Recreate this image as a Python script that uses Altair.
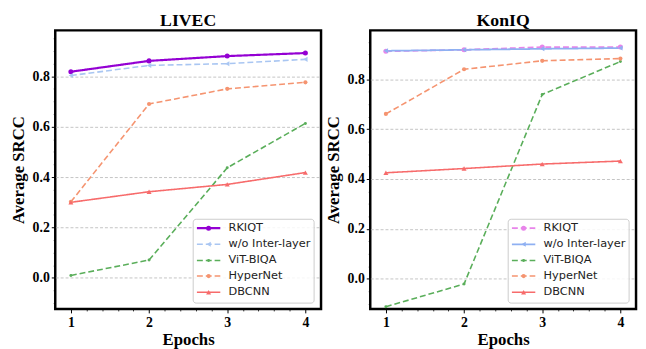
import altair as alt
import pandas as pd

# ---------------- data ----------------
epochs = [1, 2, 3, 4]
series = ["RKIQT", "w/o Inter-layer", "ViT-BIQA", "HyperNet", "DBCNN"]

livec_rkiqt = [0.818, 0.861, 0.880, 0.892]
livec_wo = [0.803, 0.843, 0.850, 0.867]
livec_vit = [0.010, 0.071, 0.437, 0.613]
livec_hyper = [0.302, 0.690, 0.750, 0.776]
livec_dbcnn = [0.300, 0.342, 0.371, 0.418]

koniq_rkiqt = [0.912, 0.918, 0.929, 0.929]
koniq_wo = [0.914, 0.918, 0.922, 0.925]
koniq_vit = [-0.112, -0.021, 0.739, 0.871]
koniq_hyper = [0.661, 0.840, 0.874, 0.883]
koniq_dbcnn = [0.425, 0.442, 0.460, 0.472]

x_ticks = [1, 2, 3, 4]
y_ticks = [0.0, 0.2, 0.4, 0.6, 0.8]
x_minor = [1.2, 1.4, 1.6, 1.8, 2.2, 2.4, 2.6, 2.8, 3.2, 3.4, 3.6, 3.8]
y_minor = [-0.1, -0.05, 0.05, 0.1, 0.15, 0.25, 0.3, 0.35, 0.45, 0.5, 0.55,
           0.65, 0.7, 0.75, 0.85, 0.9, 0.95]

# ---------------- styles ----------------
SERIF = "Liberation Serif"
SANS = "DejaVu Sans"
W, H = 270, 283
DASH = [6, 3]
SOLID = [1, 0]

livec_colors = ["#9400d3", "#a9c6f2", "#5aae5a", "#f59470", "#f76b6b"]
livec_dashes = [SOLID, DASH, DASH, DASH, SOLID]
livec_widths = [2.2, 1.6, 1.6, 1.6, 1.6]

koniq_colors = ["#e884ea", "#8fb0f2", "#5aae5a", "#f59470", "#f76b6b"]
koniq_dashes = [DASH, SOLID, DASH, DASH, SOLID]
koniq_widths = [1.8, 1.8, 1.6, 1.6, 1.6]

shapes = ["circle", "triangle-left", "circle", "circle", "triangle-up"]
sizes = [26, 26, 9, 18, 26]

# legend layout (fractions of the plot area)
leg_box = dict(x0=0.519, x1=0.974, y0=0.021, y1=0.322)
leg_rows = [0.290, 0.232, 0.174, 0.118, 0.060]
leg_line = (0.533, 0.621)
leg_text_x = 0.652


def panel(title, values, colors, dashes, widths, ydom):
    rows = []
    for s, vals in zip(series, values):
        for e, v in zip(epochs, vals):
            rows.append({"series": s, "epoch": e, "srcc": v})
    df = pd.DataFrame(rows)

    color = alt.Color("series:N", scale=alt.Scale(domain=series, range=colors), legend=None)
    dash = alt.StrokeDash("series:N", scale=alt.Scale(domain=series, range=dashes), legend=None)
    sw = alt.StrokeWidth("series:N", scale=alt.Scale(type="ordinal", domain=series, range=widths), legend=None)
    shape = alt.Shape("series:N", scale=alt.Scale(domain=series, range=shapes), legend=None)
    size = alt.Size("series:N", scale=alt.Scale(type="ordinal", domain=series, range=sizes), legend=None)

    xs = alt.Scale(domain=[0.8, 4.2], nice=False, zero=False)
    ys = alt.Scale(domain=ydom, nice=False, zero=False)

    lines = alt.Chart(df).mark_line().encode(
        x=alt.X("epoch:Q", scale=xs,
                axis=alt.Axis(values=x_ticks, format="d", title="Epochs", grid=False,
                              labelPadding=3, titlePadding=2, orient="bottom")),
        y=alt.Y("srcc:Q", scale=ys,
                axis=alt.Axis(values=y_ticks, format=".1f", title="Average SRCC", grid=True,
                              labelPadding=2, titlePadding=5, orient="left")),
        color=color, strokeDash=dash, strokeWidth=sw,
    )
    minor = alt.Chart(df).mark_point(opacity=0).encode(
        x=alt.X("epoch:Q", scale=xs,
                axis=alt.Axis(values=x_minor, labels=False, title=None, grid=False,
                              tickSize=2, tickWidth=0.8, orient="bottom")),
        y=alt.Y("srcc:Q", scale=ys,
                axis=alt.Axis(values=y_minor, labels=False, title=None, grid=False,
                              tickSize=2, tickWidth=0.8, orient="left")),
    )
    points = alt.Chart(df).mark_point(filled=True, opacity=1).encode(
        x=alt.X("epoch:Q", scale=xs, axis=None),
        y=alt.Y("srcc:Q", scale=ys, axis=None),
        color=color, shape=shape, size=size,
    )

    lx = alt.Scale(domain=[0, 1], nice=False, zero=False)
    ly = alt.Scale(domain=[0, 1], nice=False, zero=False)
    boxdf = pd.DataFrame([leg_box])
    box = alt.Chart(boxdf).mark_rect(
        fill="white", fillOpacity=0.85, stroke="#cccccc", strokeWidth=1, cornerRadius=3
    ).encode(
        x=alt.X("x0:Q", scale=lx, axis=None), x2="x1:Q",
        y=alt.Y("y0:Q", scale=ly, axis=None), y2="y1:Q",
    )
    leg = pd.DataFrame({
        "series": series,
        "ly": leg_rows,
        "lx0": [leg_line[0]] * 5,
        "lx1": [leg_line[1]] * 5,
        "lxm": [(leg_line[0] + leg_line[1]) / 2] * 5,
        "lxt": [leg_text_x] * 5,
    })
    seg = alt.Chart(leg).mark_rule().encode(
        x=alt.X("lx0:Q", scale=lx, axis=None), x2="lx1:Q",
        y=alt.Y("ly:Q", scale=ly, axis=None),
        color=color, strokeDash=dash, strokeWidth=sw,
    )
    mk = alt.Chart(leg).mark_point(filled=True, opacity=1).encode(
        x=alt.X("lxm:Q", scale=lx, axis=None),
        y=alt.Y("ly:Q", scale=ly, axis=None),
        color=color, shape=shape, size=size,
    )
    txt = alt.Chart(leg).mark_text(
        align="left", baseline="middle", font=SANS, fontSize=11.5, color="#222222"
    ).encode(
        x=alt.X("lxt:Q", scale=lx, axis=None),
        y=alt.Y("ly:Q", scale=ly, axis=None),
        text="series:N",
    )

    return alt.layer(lines, minor, points, box, seg, mk, txt).resolve_scale(
        x="independent", y="independent"
    ).properties(
        width=W, height=H,
        view=alt.ViewBackground(stroke="black", strokeWidth=2.5),
        title=alt.Title(title, font=SERIF, fontSize=18, fontWeight="bold", color="black", offset=0),
    )


left = panel("LIVEC", [livec_rkiqt, livec_wo, livec_vit, livec_hyper, livec_dbcnn],
             livec_colors, livec_dashes, livec_widths, [-0.123, 0.982])
right = panel("KonIQ", [koniq_rkiqt, koniq_wo, koniq_vit, koniq_hyper, koniq_dbcnn],
              koniq_colors, koniq_dashes, koniq_widths, [-0.121, 0.996])

chart = alt.hconcat(left, right, spacing=0).resolve_scale(
    color="independent", strokeDash="independent", strokeWidth="independent",
    shape="independent", size="independent",
).properties(padding=0).configure_axis(
    labelFont=SERIF, labelFontWeight="bold", labelFontSize=14, labelColor="black",
    titleFont=SERIF, titleFontWeight="bold", titleFontSize=17, titleColor="black",
    domain=False, tickColor="black", tickSize=4, tickWidth=1,
    gridColor="#b5b5b5", gridDash=[3, 2], gridWidth=0.8,
).configure_view(stroke="black", strokeWidth=2.5)

chart.save("out.html", embed_options={"renderer": "svg", "actions": False})
